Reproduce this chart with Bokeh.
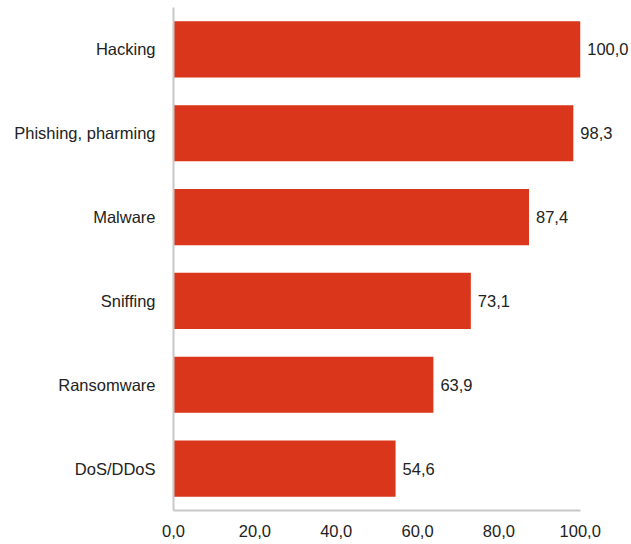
from bokeh.plotting import figure
from bokeh.models import FactorRange, Range1d, FixedTicker, ColumnDataSource, LabelSet
from bokeh.core.properties import value
from bokeh.embed import file_html
from bokeh.resources import INLINE

categories = ["Hacking", "Phishing, pharming", "Malware", "Sniffing", "Ransomware", "DoS/DDoS"]
values = [100.0, 98.3, 87.4, 73.1, 63.9, 54.6]
value_labels = ["100,0", "98,3", "87,4", "73,1", "63,9", "54,6"]
tick_values = [0, 20, 40, 60, 80, 100]
tick_labels = ["0,0", "20,0", "40,0", "60,0", "80,0", "100,0"]

FONT = "Liberation Sans"
BAR = "#DA361B"
AXIS = "#c8c8c8"
TXT = "#222222"
FS = "16.5px"

src = ColumnDataSource(dict(cat=categories, val=values, lab=value_labels))

# frame spans to the right edge so value labels are not clipped; axis line bounded to 0..100
p = figure(width=631, height=544, output_backend="svg", toolbar_location=None,
           y_range=FactorRange(factors=categories[::-1], range_padding=0),
           x_range=Range1d(0, 112.6),
           min_border_left=173, min_border_right=0, min_border_top=7, min_border_bottom=34)

p.hbar(y="cat", right="val", left=0, height=0.67, source=src, fill_color=BAR, line_color=None)
labels = LabelSet(x="val", y="cat", text="lab", source=src, x_offset=7, text_baseline="middle",
                  text_align="left", text_font=value(FONT), text_font_size=FS, text_color=TXT)
p.add_layout(labels)

p.outline_line_color = None
p.xgrid.visible = False
p.ygrid.visible = False

p.xaxis.ticker = FixedTicker(ticks=tick_values)
p.xaxis.major_label_overrides = {t: l for t, l in zip(tick_values, tick_labels)}
p.xaxis.bounds = (0, 100)

for ax in (p.xaxis[0], p.yaxis[0]):
    ax.axis_line_color = AXIS
    ax.axis_line_width = 2
    ax.major_tick_line_color = None
    ax.minor_tick_line_color = None
    ax.major_tick_out = 0
    ax.major_tick_in = 0
    ax.minor_tick_out = 0
    ax.minor_tick_in = 0
    ax.major_label_text_font = FONT
    ax.major_label_text_font_size = FS
    ax.major_label_text_color = TXT

p.xaxis.major_label_standoff = 14
p.yaxis.major_label_standoff = 18

open("out.html", "w").write(file_html(p, INLINE))
